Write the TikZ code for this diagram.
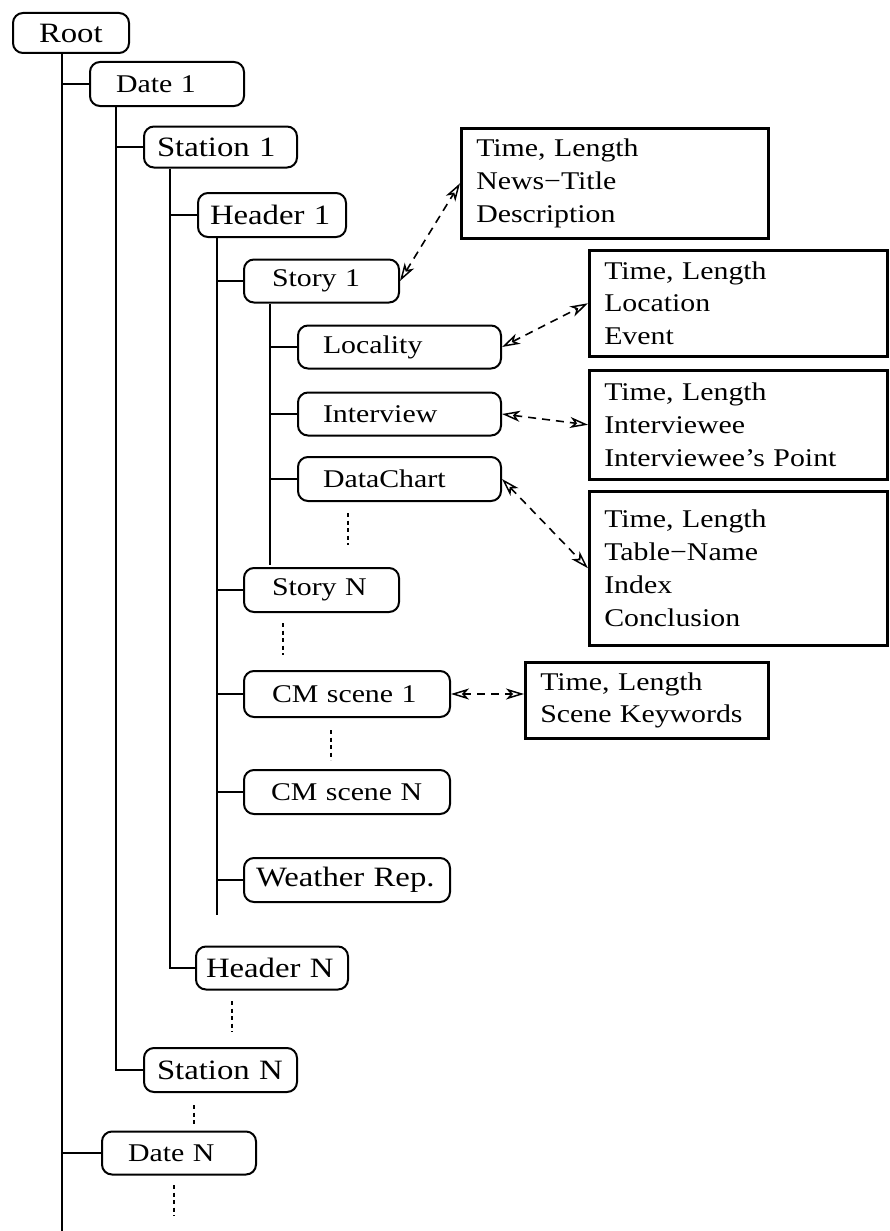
\documentclass[tikz,border=0pt]{standalone}
\usepackage{fontspec}
\setmainfont{Liberation Serif}[FakeStretch=1.17]
\usetikzlibrary{arrows.meta}
\newcommand\fntL{\fontsize{28}{33}\selectfont}
\newcommand\fntS{\fontsize{25.5}{33}\selectfont}
\newcommand\fntB{\fontsize{25.5}{32.7}\selectfont}
\begin{document}
\begin{tikzpicture}[x=1pt,y=-1pt,
  tnode/.style 2 args={draw, line width=2pt, rounded corners=10pt, anchor=west,
    align=left, inner ysep=0pt, inner xsep=#1, text width=#2, minimum height=44pt},
  info/.style 2 args={draw, line width=2.5pt, anchor=north west, align=left,
    inner ysep=0pt, inner xsep=15pt, text width=#1, minimum height=#2, font=\fntB},
  tree/.style={line width=2.7pt},
  more/.style={line width=1.4pt, dash pattern=on 4pt off 3.5pt},
  link/.style={line width=1.6pt, dash pattern=on 8pt off 6pt,
    arrows={Stealth[open,length=18pt,width=11pt,inset=5pt,line width=1.5pt]-Stealth[open,length=18pt,width=11pt,inset=5pt,line width=1.5pt]}}
]
\useasboundingbox (0,0) rectangle (889,1231);

% hierarchy nodes
\node[tnode={26pt}{64pt}, minimum height=40pt, font=\fntL] (root) at (12,33) {Root};
\node[tnode={26pt}{102pt}, font=\fntS] (date1) at (89,84) {Date 1};
\node[tnode={13pt}{127pt}, minimum height=41pt, font=\fntL] (st1) at (143,147) {Station 1};
\node[tnode={12pt}{124pt}, font=\fntL] (hd1) at (197,215) {Header 1};
\node[tnode={28pt}{99pt}, minimum height=43pt, font=\fntS] (story1) at (243,281) {Story 1};
\node[tnode={25pt}{153pt}, minimum height=43pt, font=\fntS] (loc) at (297,347) {Locality};
\node[tnode={25pt}{153pt}, minimum height=43pt, font=\fntS] (intv) at (297,414) {Interview};
\node[tnode={25pt}{153pt}, font=\fntS] (dchart) at (297,479) {DataChart};
\node[tnode={28pt}{99pt}, font=\fntS] (storyN) at (243,590) {Story N};
\node[tnode={28pt}{150pt}, minimum height=46pt, font=\fntS] (cm1) at (243,694) {CM scene 1};
\node[tnode={27pt}{152pt}, font=\fntS] (cmN) at (243,792) {CM scene N};
\node[tnode={12pt}{182pt}, font=\fntL] (weather) at (243,880) {Weather Rep.};
\node[tnode={10pt}{132pt}, minimum height=43pt, font=\fntL] (hdN) at (195,968) {Header N};
\node[tnode={13pt}{127pt}, font=\fntL] (stN) at (143,1070) {Station N};
\node[tnode={26pt}{102pt}, minimum height=43pt, font=\fntS] (dateN) at (101,1153) {Date N};

% attribute boxes
\node[info={277pt}{110pt}] (boxA) at (460,127) {Time, Length\\News−Title\\Description};
\node[info={268pt}{106pt}] (boxB) at (588,249) {Time, Length\\Location\\Event};
\node[info={268pt}{109pt}] (boxC) at (588,369) {Time, Length\\Interviewee\\Interviewee’s Point};
\node[info={268pt}{154pt}] (boxD) at (588,490) {Time, Length\\Table−Name\\Index\\Conclusion};
\node[info={213pt}{76pt}] (boxE) at (524,661) {Time, Length\\Scene Keywords};

% trunks of the tree
\coordinate (t0) at (62,1231);
\coordinate (t1) at (116,1070);
\coordinate (t2) at (170,968);
\coordinate (t3) at (217,915);
\coordinate (t4) at (270,565);

\draw[tree] (t0 |- root.south) -- (t0);
\draw[tree] (t0 |- date1.west) -- (date1.west);
\draw[tree] (t0 |- dateN.west) -- (dateN.west);

\draw[tree] (t1 |- date1.south) -- (t1) -- (stN.west);
\draw[tree] (t1 |- st1.west) -- (st1.west);

\draw[tree] (t2 |- st1.south) -- (t2) -- (hdN.west);
\draw[tree] (t2 |- hd1.west) -- (hd1.west);

\draw[tree] (t3 |- hd1.south) -- (t3);
\foreach \n in {story1,storyN,cm1,cmN,weather}
  \draw[tree] (t3 |- \n.west) -- (\n.west);

\draw[tree] (t4 |- story1.south) -- (t4);
\foreach \n in {loc,intv,dchart}
  \draw[tree] (t4 |- \n.west) -- (\n.west);

% omitted siblings
\draw[more] (348,513) -- (348,545);
\draw[more] (283,623) -- (283,655);
\draw[more] (331,730) -- (331,760);
\draw[more] (232,1001) -- (232,1032);
\draw[more] (194,1105) -- (194,1127);
\draw[more] (174,1185) -- (174,1216);

% links to attribute boxes
\draw[link] (story1.east) -- (boxA.west);
\draw[link] (loc.east) -- (boxB.west);
\draw[link] (intv.east) -- (boxC.west);
\draw[link] (dchart.east) -- (boxD.west);
\draw[link] (cm1.east) -- (cm1.east -| boxE.west);
\end{tikzpicture}
\end{document}
